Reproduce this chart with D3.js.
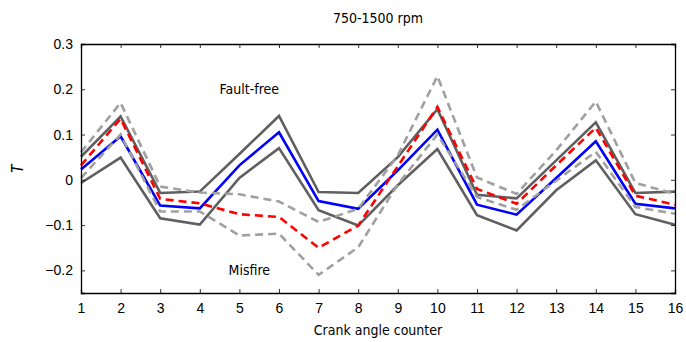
<!DOCTYPE html>
<html>
<head>
<meta charset="utf-8">
<script src="https://cdn.jsdelivr.net/npm/d3@7"></script>
<style>
  body { margin: 0; background: #fff; }
  svg { font-family: 'DejaVu Sans Condensed', 'DejaVu Sans', sans-serif; }
</style>
</head>
<body>
<div id="chart"></div>
<script>
// crank angle positions
const crank = d3.range(1, 17);
const yTicks = [-0.2, -0.1, 0, 0.1, 0.2, 0.3];

// fault-free band and mean
const ffUpper = [0.051, 0.14, -0.029, -0.026, 0.057, 0.141, -0.027, -0.029, 0.05, 0.156, -0.033, -0.041, 0.043, 0.127, -0.029, -0.026];
const ffMean  = [0.023, 0.096, -0.057, -0.063, 0.032, 0.105, -0.047, -0.064, 0.021, 0.111, -0.055, -0.077, 0.004, 0.085, -0.053, -0.063];
const ffLower = [-0.007, 0.049, -0.085, -0.099, 0.004, 0.07, -0.067, -0.101, -0.012, 0.068, -0.078, -0.112, -0.023, 0.043, -0.076, -0.099];

// misfire band and mean
const mfUpper = [0.061, 0.17, -0.015, -0.028, -0.032, -0.048, -0.093, -0.064, 0.054, 0.229, 0.005, -0.031, 0.065, 0.173, -0.007, -0.031];
const mfMean  = [0.032, 0.135, -0.042, -0.052, -0.076, -0.082, -0.15, -0.101, 0.03, 0.161, -0.02, -0.053, 0.032, 0.115, -0.035, -0.055];
const mfLower = [0.004, 0.1, -0.07, -0.07, -0.123, -0.119, -0.21, -0.149, -0.01, 0.1, -0.038, -0.066, -0.002, 0.062, -0.06, -0.075];

const W = 686, H = 342;
const margin = { top: 44, right: 11, bottom: 49, left: 81 };
const width = W - margin.left - margin.right;
const height = H - margin.top - margin.bottom;

const svg = d3.select('#chart').append('svg')
  .attr('width', W)
  .attr('height', H);

const g = svg.append('g')
  .attr('transform', `translate(${margin.left},${margin.top})`);

const x = d3.scaleLinear().domain([1, 16]).range([0, width]);
const y = d3.scaleLinear().domain([-0.25, 0.3]).range([height, 0]);

const line = d3.line()
  .x((d, i) => x(crank[i]))
  .y(d => y(d));

// series, drawn in this order
const series = [
  { data: ffUpper, color: '#5f5f5f', dash: null },
  { data: ffLower, color: '#5f5f5f', dash: null },
  { data: ffMean, color: '#0000ff', dash: null },
  { data: mfUpper, color: '#a0a0a0', dash: '8,5' },
  { data: mfLower, color: '#a0a0a0', dash: '8,5' },
  { data: mfMean, color: '#ff0000', dash: '8,5' }
];

g.append('g').selectAll('path')
  .data(series)
  .join('path')
  .attr('d', s => line(s.data))
  .attr('fill', 'none')
  .attr('stroke', s => s.color)
  .attr('stroke-width', 2.6)
  .attr('stroke-dasharray', s => s.dash)
  .attr('stroke-linejoin', 'miter');

// axes, ticks pointing inward on all four sides
const fmtY = d => d === 0 ? '0' : d3.format('.1f')(d);

const xAxis = g.append('g')
  .attr('transform', `translate(0,${height})`)
  .call(d3.axisBottom(x).tickValues(crank).tickSize(-4).tickPadding(10).tickFormat(d3.format('d')));
const xTop = g.append('g')
  .call(d3.axisTop(x).tickValues(crank).tickSize(-4).tickFormat(''));
const yAxis = g.append('g')
  .call(d3.axisLeft(y).tickValues(yTicks).tickSize(-4).tickPadding(8).tickFormat(fmtY));
const yRight = g.append('g')
  .attr('transform', `translate(${width},0)`)
  .call(d3.axisRight(y).tickValues(yTicks).tickSize(-4).tickFormat(''));

[xAxis, xTop, yAxis, yRight].forEach(a => {
  a.select('.domain').attr('stroke', '#000').attr('stroke-width', 1.3);
  a.selectAll('.tick line').attr('stroke', '#000').attr('stroke-width', 0.8);
  a.selectAll('text').attr('font-family', null).style('font-size', '14px').attr('fill', '#000');
});

// annotations
g.append('text')
  .attr('x', x(5.25))
  .attr('y', y(0.2) + 5)
  .attr('text-anchor', 'middle')
  .style('font-size', '14px')
  .text('Fault-free');

g.append('text')
  .attr('x', x(5.25))
  .attr('y', y(-0.2) + 5)
  .attr('text-anchor', 'middle')
  .style('font-size', '14px')
  .text('Misfire');

// title and axis labels
svg.append('text')
  .attr('x', margin.left + width / 2)
  .attr('y', 23)
  .attr('text-anchor', 'middle')
  .style('font-size', '14px')
  .text('750-1500 rpm');

svg.append('text')
  .attr('x', margin.left + width / 2)
  .attr('y', 335)
  .attr('text-anchor', 'middle')
  .style('font-size', '14px')
  .text('Crank angle counter');

svg.append('text')
  .attr('transform', `translate(23,${margin.top + y(0.025)}) rotate(-90)`)
  .attr('text-anchor', 'middle')
  .style('font-size', '15px')
  .style('font-style', 'italic')
  .text('T');
</script>
</body>
</html>
